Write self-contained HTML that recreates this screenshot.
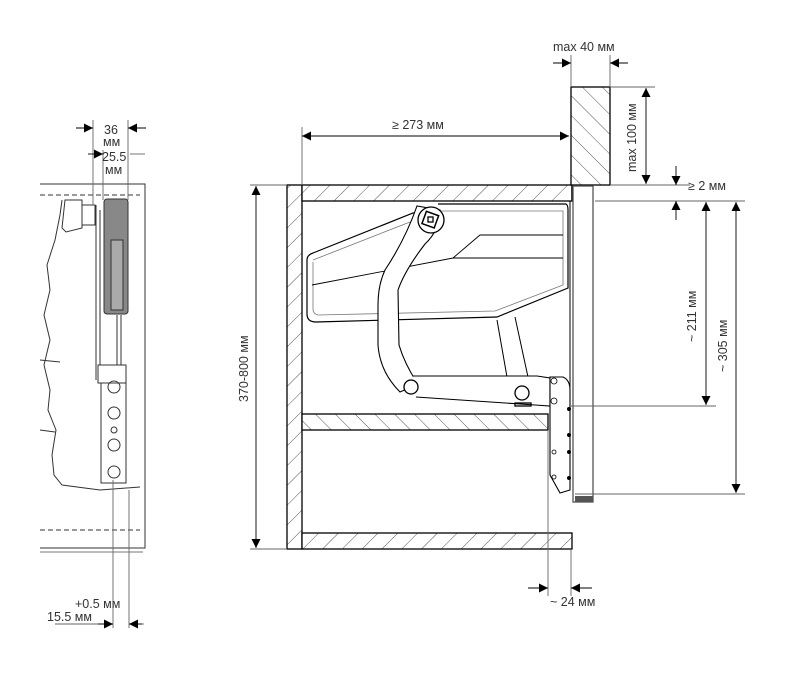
<!DOCTYPE html>
<html><head><meta charset="utf-8"><style>
html,body{margin:0;padding:0;background:#fff}
svg{display:block}
text{font-family:"Liberation Sans",sans-serif;fill:#333;font-size:12.5px}
</style></head><body>
<svg width="809" height="684" viewBox="0 0 809 684" xmlns="http://www.w3.org/2000/svg">
<defs>
<pattern id="h" patternUnits="userSpaceOnUse" width="14" height="14" patternTransform="rotate(45)">
<rect width="14" height="14" fill="#fff"/><line x1="0" y1="0" x2="0" y2="14" stroke="#444" stroke-width="0.9"/></pattern>
<pattern id="h2" patternUnits="userSpaceOnUse" width="14" height="14" patternTransform="rotate(-45)">
<rect width="14" height="14" fill="#fff"/><line x1="0" y1="0" x2="0" y2="14" stroke="#444" stroke-width="0.9"/></pattern>
<marker id="a" viewBox="0 0 10 10" refX="10" refY="5" markerWidth="13" markerHeight="9" orient="auto-start-reverse" markerUnits="userSpaceOnUse"><path d="M0,0L10,5L0,10z" fill="#000"/></marker>
</defs>
<g stroke="#000" stroke-width="1.3" fill="none">
<rect x="287" y="185" width="15" height="364" fill="url(#h)"/>
<rect x="302" y="185" width="270" height="16" fill="url(#h)"/>
<rect x="302" y="533" width="270" height="16" fill="url(#h)"/>
<rect x="302" y="414" width="246" height="16" fill="url(#h2)"/>
<line x1="572" y1="185" x2="572" y2="201"/>
<rect x="571" y="87" width="39" height="98" fill="url(#h2)"/>
<rect x="573" y="186" width="20" height="316" stroke="#555"/>
<rect x="575" y="496" width="18" height="6" fill="#555" stroke="none"/>
<line x1="570" y1="201" x2="570" y2="410" stroke-width="1"/>
<path d="M313,253 L413,213 Q420,212 420,218 M438,204 L566,204 Q568,205 568,210 L568,288 L497,317 L316,322 Q307,322 307,314 L307,260 Q307,255 313,253" stroke-width="1.2"/>
<path d="M313,260 L410,222 M440,211 L563,211 L563,285 L495,311 L318,315 Q313,314 313,309 L313,262" stroke="#777" stroke-width="0.8"/>
<path d="M312,285 L453,258 L563,258 M453,258 L480,235 L563,235" stroke-width="0.9"/>
<path d="M497,320 L507,377 M515,317 L528,377" stroke-width="1"/>
<path d="M417,206 Q405,240 385,270 Q378,285 378,305 L378,345 Q380,372 400,392 L418,384 Q405,365 399,345 L398,290 Q405,270 425,244 Q440,230 440,210 Z" fill="#fff" stroke-width="1.1"/>
<circle cx="431" cy="220" r="13" fill="#fff"/>
<rect x="424" y="213" width="13" height="13" fill="#fff" stroke-width="1.5" transform="rotate(20 430 219)"/>
<rect x="428" y="217" width="5" height="5"/>
<path d="M413,376 L537,376 L550,378 L550,406 L535,405 L416,397" fill="#fff" stroke-width="1.1"/>
<circle cx="411" cy="387" r="7" fill="#fff"/>
<circle cx="522" cy="393" r="7" fill="#fff"/>
<rect x="515" y="403" width="16" height="3"/>
<path d="M550,377 L563,377 Q570,380 570,390 L570,490 L560,493 L550,475 Z" fill="#fff" stroke-width="1.1"/>
<g fill="none" stroke-width="0.8"><circle cx="554" cy="381" r="3"/><circle cx="554" cy="401" r="3"/><circle cx="554" cy="452" r="2"/><circle cx="554" cy="477" r="2"/></g>
<g fill="#000" stroke="none"><circle cx="569" cy="409" r="2"/><circle cx="569" cy="435" r="2"/><circle cx="569" cy="452" r="2"/><circle cx="569" cy="478" r="2"/></g>
</g>
<g stroke="#666" stroke-width="0.9" fill="none">
<line x1="302" y1="127" x2="302" y2="185"/>
<line x1="571" y1="55" x2="571" y2="87"/><line x1="610" y1="55" x2="610" y2="87"/>
<line x1="610" y1="87" x2="655" y2="87"/>
<line x1="610" y1="185" x2="690" y2="185"/>
<line x1="595" y1="201" x2="745" y2="201"/>
<line x1="570" y1="406" x2="716" y2="406"/>
<line x1="575" y1="494" x2="745" y2="494"/>
<line x1="548" y1="430" x2="548" y2="596"/><line x1="571" y1="549" x2="571" y2="596"/>
<line x1="250" y1="185" x2="287" y2="185"/><line x1="250" y1="549" x2="287" y2="549"/>
</g>
<g stroke="#000" stroke-width="0.9" fill="none">
<line x1="302" y1="136" x2="569" y2="136" marker-start="url(#a)" marker-end="url(#a)"/>
<line x1="553" y1="63" x2="571" y2="63" marker-end="url(#a)"/><line x1="628" y1="63" x2="610" y2="63" marker-end="url(#a)"/>
<line x1="646" y1="88" x2="646" y2="184" marker-start="url(#a)" marker-end="url(#a)"/>
<line x1="676" y1="166" x2="676" y2="185" marker-end="url(#a)"/><line x1="676" y1="220" x2="676" y2="201" marker-end="url(#a)"/>
<line x1="706" y1="202" x2="706" y2="405" marker-start="url(#a)" marker-end="url(#a)"/>
<line x1="736" y1="202" x2="736" y2="493" marker-start="url(#a)" marker-end="url(#a)"/>
<line x1="256" y1="186" x2="256" y2="548" marker-start="url(#a)" marker-end="url(#a)"/>
<line x1="528" y1="588" x2="548" y2="588" marker-end="url(#a)"/><line x1="592" y1="588" x2="571" y2="588" marker-end="url(#a)"/>
</g>
<text x="392" y="129">≥  273 мм</text>
<text x="553" y="51">max 40 мм</text>
<text x="688" y="190">≥ 2 мм</text>
<text x="550" y="606">~ 24 мм</text>
<text transform="translate(636,172) rotate(-90)">max 100 мм</text>
<text transform="translate(696,342) rotate(-90)">~ 211 мм</text>
<text transform="translate(727,372) rotate(-90)">~ 305 мм</text>
<text transform="translate(248,402) rotate(-90)">370-800 мм</text>
<g stroke="#333" stroke-width="1" fill="none">
<path d="M40,184 L145,184 L145,548 L40,548"/>
<path d="M40,552 L143,552" stroke="#777"/>
<path d="M40,195 L140,195 M40,530 L140,530" stroke-dasharray="5,3"/>
<path d="M62,200 L60,215 L55,240 L47,265 L50,290 L44,315 L50,340 L44,365 L50,390 L48,410 L56,430 L52,455 L54,475 L62,485 L100,490 L140,487"/>
<path d="M65,200 L82,200 L82,228 L66,232 L62,228 Z M82,205 L95,205 L95,225 L82,225"/>
<path d="M40,360 L60,362 M40,430 L55,432"/>
<line x1="96" y1="205" x2="96" y2="380"/><line x1="100" y1="210" x2="100" y2="380"/>
<rect x="104" y="199" width="24" height="115" rx="3" fill="#888"/>
<rect x="111" y="240" width="12" height="70" fill="#aaa"/>
<line x1="117" y1="315" x2="117" y2="370"/><line x1="121" y1="315" x2="121" y2="370"/>
<rect x="101" y="368" width="25" height="115" fill="#fff"/>
<rect x="98" y="365" width="28" height="18" fill="#fff"/>
<circle cx="114" cy="387" r="6"/><circle cx="114" cy="413" r="6"/><circle cx="114" cy="430" r="3"/><circle cx="114" cy="445" r="6"/><circle cx="114" cy="472" r="6"/>
</g>
<g stroke="#666" stroke-width="0.9">
<line x1="93" y1="120" x2="93" y2="205"/><line x1="128" y1="120" x2="128" y2="200"/>
<line x1="103" y1="150" x2="103" y2="200"/>
<line x1="113" y1="480" x2="113" y2="628"/><line x1="129" y1="490" x2="129" y2="628"/>
<line x1="130" y1="154" x2="145" y2="154"/>
<line x1="55" y1="624" x2="108" y2="624"/><line x1="134" y1="624" x2="144" y2="624"/>
</g>
<g stroke="#000" stroke-width="0.9">
<line x1="76" y1="128" x2="93" y2="128" marker-end="url(#a)"/><line x1="146" y1="128" x2="128" y2="128" marker-end="url(#a)"/>
<line x1="88" y1="154" x2="103" y2="154" marker-end="url(#a)"/>
<line x1="98" y1="624" x2="113" y2="624" marker-end="url(#a)"/><line x1="142" y1="624" x2="129" y2="624" marker-end="url(#a)"/>
</g>
<text x="104" y="134" font-size="12">36</text>
<text x="103" y="146" font-size="9">мм</text>
<text x="102" y="161">25.5</text>
<text x="105" y="174" font-size="9">мм</text>
<text x="75" y="608" font-size="11">+0.5 мм</text>
<text x="47" y="621" font-size="11">15.5 мм</text>
</svg>
</body></html>
